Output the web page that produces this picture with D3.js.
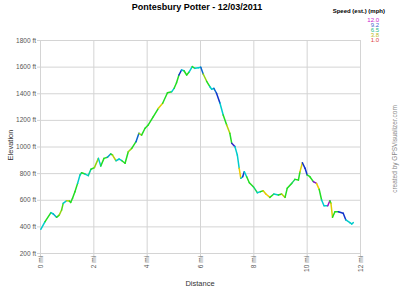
<!DOCTYPE html>
<html><head><meta charset="utf-8">
<script src="https://cdn.jsdelivr.net/npm/d3@7"></script>
<style>body{margin:0;background:#fff}svg{display:block;font-family:"Liberation Sans",Arial,sans-serif}</style>
</head><body>
<svg id="c" width="400" height="293"></svg>
<script>
const distances = [0.03,0.19,0.41,0.5,0.62,0.72,0.81,0.87,1.0,1.1,1.15,1.22,1.31,1.41,1.5,1.56,1.69,1.81,1.91,2.04,2.19,2.28,2.4,2.53,2.65,2.72,2.85,2.97,3.07,3.19,3.31,3.44,3.6,3.71,3.81,3.94,4.06,4.25,4.44,4.6,4.78,4.94,5.03,5.12,5.21,5.31,5.4,5.5,5.6,5.71,5.81,5.94,6.03,6.12,6.25,6.37,6.44,6.52,6.62,6.75,6.87,7.0,7.12,7.19,7.31,7.4,7.47,7.53,7.6,7.66,7.75,7.85,8.0,8.15,8.27,8.37,8.47,8.62,8.77,8.94,9.06,9.19,9.27,9.44,9.56,9.69,9.75,9.84,9.94,10.02,10.12,10.25,10.37,10.47,10.56,10.65,10.79,10.87,10.91,10.97,11.06,11.19,11.37,11.47,11.62,11.69,11.75];
const elevations = [378,435,503,493,468,485,523,573,593,590,580,611,660,723,786,803,793,781,829,841,911,853,911,919,944,936,893,906,893,874,961,986,1036,1099,1086,1137,1162,1224,1287,1325,1404,1412,1437,1479,1537,1575,1569,1537,1562,1600,1587,1592,1595,1545,1490,1449,1430,1437,1400,1325,1237,1162,1099,1024,999,936,836,761,773,811,773,728,698,653,661,668,643,618,643,636,643,618,686,723,753,748,811,878,836,786,773,736,723,678,598,555,555,593,573,468,510,510,498,448,428,418,428];
const speeds = [8,8,6.5,8,8.3,6.5,5,6,8,4.5,6.5,6.5,6.5,6.5,8,7.5,6.5,8,7.5,6.5,5,8,6.5,6.5,8.5,6.5,4.5,8,8,6.5,6.5,5,6.5,9,5,6.5,6.5,6.5,6.5,4,6.5,6.5,8,6.5,6.5,9.5,8,6.5,6.5,8,6.5,8,8,9,5,6.5,8,8,9,9.5,8,6.5,4.5,6.5,10,8,8,3.8,8,9.5,8,6.5,6.5,7,8,6.5,4,3.8,6.5,8,6.5,4.5,6.5,6.5,7,6.5,6.5,4,9.5,9.5,6.5,6.5,11,3.8,6.5,8,8,11.5,6.5,4,6.5,6.5,9.5,9.5,8,8,8];
const xTicks = [0,2,4,6,8,10,12];
const yTicks = [200,400,600,800,1000,1200,1400,1600,1800];
const legendValues = [12.0,9.2,6.5,3.8,1.0];
const legendColors = ["#cc22cc","#4466cc","#22bb88","#bbbb22","#dd4444"];

const svg = d3.select("#c");
const x = d3.scaleLinear().domain([0,12]).range([40,360]);
const y = d3.scaleLinear().domain([200,1800]).range([253,40]);
const color = d3.scaleLinear().domain([1,3.8,6.5,8,9.5,12]).range(["#ee2222","#eecc00","#22dd22","#00cccc","#1133cc","#cc00cc"]);

const g = svg.append("g");
g.selectAll(".gy").data(yTicks).join("line")
  .attr("x1",37).attr("x2",360).attr("y1",d=>y(d)+0.5).attr("y2",d=>y(d)+0.5)
  .attr("stroke","#d4d4d4").attr("stroke-width",1);
g.selectAll(".gx").data(xTicks).join("line")
  .attr("x1",d=>x(d)+0.5).attr("x2",d=>x(d)+0.5).attr("y1",40).attr("y2",256)
  .attr("stroke","#d4d4d4").attr("stroke-width",1);

svg.selectAll(".yl").data(yTicks).join("text")
  .attr("x",36).attr("y",d=>y(d)+2.5).attr("text-anchor","end")
  .attr("font-size","6.5px").attr("fill","#555").text(d=>d+" ft");
svg.selectAll(".xl").data(xTicks).join("text")
  .attr("transform",d=>`translate(${x(d)+2.5},256) rotate(-90)`)
  .attr("text-anchor","end").attr("font-size","6.5px").attr("fill","#555").text(d=>d+" mi");

const pts = distances.map((d,i)=>[d,elevations[i],speeds[i]]);
const line = d3.line().x(d=>x(d[0])).y(d=>y(d[1]));
const segs = d3.pairs(pts);
svg.append("g").selectAll("path").data(segs).join("path")
  .attr("d",d=>line(d)).attr("fill","none")
  .attr("stroke",d=>color(d[1][2])).attr("stroke-width",1.5).attr("stroke-linecap","round");

svg.append("text").attr("x",197).attr("y",10).attr("text-anchor","middle")
  .attr("font-size","9px").attr("font-weight","bold").attr("fill","#000").text("Pontesbury Potter - 12/03/2011");
svg.append("text").attr("x",200).attr("y",286).attr("text-anchor","middle")
  .attr("font-size","7.5px").attr("fill","#333").text("Distance");
svg.append("text").attr("transform","translate(13,145) rotate(-90)").attr("text-anchor","middle")
  .attr("font-size","7.5px").attr("fill","#333").text("Elevation");
svg.append("text").attr("x",385).attr("y",13).attr("text-anchor","end")
  .attr("font-size","6px").attr("font-weight","bold").attr("fill","#000").text("Speed (est.) (mph)");
svg.selectAll(".lg").data(legendValues).join("text")
  .attr("x",379).attr("y",(d,i)=>21.5+i*5).attr("text-anchor","end")
  .attr("font-size","6px").attr("fill",(d,i)=>legendColors[i]).text(d=>d.toFixed(1));
svg.append("text").attr("transform","translate(397,149) rotate(-90)").attr("text-anchor","middle")
  .attr("font-size","6.5px").attr("fill","#888").text("created by GPSVisualizer.com");
</script>
</body></html>
